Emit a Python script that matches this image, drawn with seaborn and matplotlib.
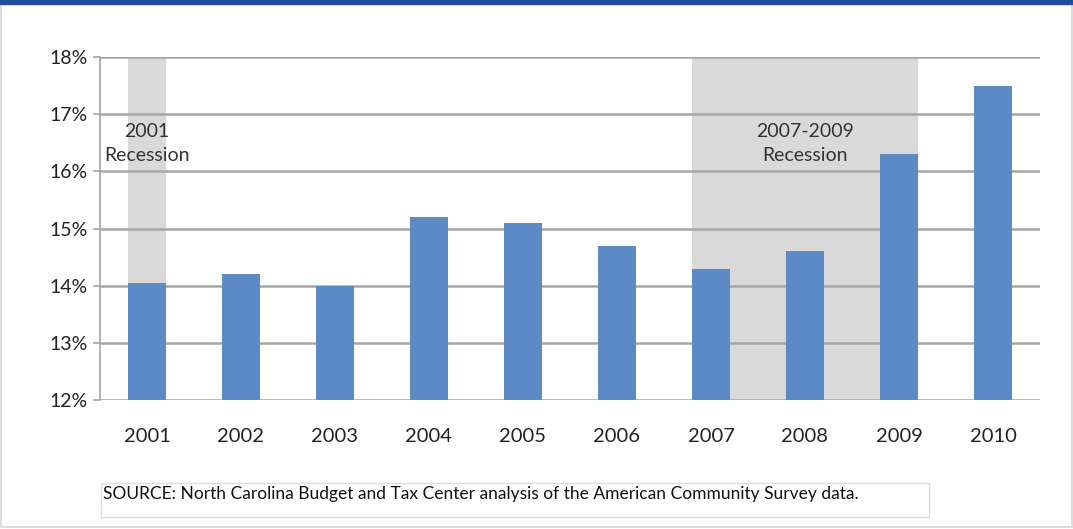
import matplotlib
matplotlib.use("Agg")
import matplotlib.pyplot as plt
import matplotlib.patches as mpatches
import seaborn as sns
import pandas as pd

years = ["2001", "2002", "2003", "2004", "2005", "2006", "2007", "2008", "2009", "2010"]
rates = [14.05, 14.2, 14.0, 15.2, 15.1, 14.7, 14.3, 14.6, 16.3, 17.5]
y_ticks = [12, 13, 14, 15, 16, 17, 18]
recessions = [("2001", "2001", "2001\nRecession"), ("2007", "2009", "2007-2009\nRecession")]
source = "SOURCE: North Carolina Budget and Tax Center analysis of the American Community Survey data."

sns.set_theme(style="white")
plt.rcParams["font.family"] = ["Lato", "DejaVu Sans"]

W, H = 1073, 529
fig = plt.figure(figsize=(W / 100, H / 100), dpi=100)
ax = fig.add_axes([100 / W, 1 - 400 / H, (1040 - 100) / W, (400 - 57) / H])

df = pd.DataFrame({"year": years, "rate": rates})
bw = 0.4
for start, end, label in recessions:
    i0, i1 = years.index(start), years.index(end)
    ax.axvspan(i0 - bw / 2, i1 + bw / 2, color="#d9d9d9", zorder=0, lw=0)
    ax.text((i0 + i1) / 2, 16.49, label, ha="center", va="center", fontsize=14,
            color="#333333", linespacing=1.5, zorder=3)

sns.barplot(data=df, x="year", y="rate", color="#5B8AC6", width=bw, saturation=1,
            ax=ax, zorder=2, bottom=0, edgecolor="none", linewidth=0)
ax.set_ylim(12, 18)
ax.set_xlim(-0.5, len(years) - 0.5)
ax.set_yticks(y_ticks)
ax.set_yticklabels([f"{t}%" for t in y_ticks])
for t in y_ticks:
    ax.axhline(t, color="#a6a6a6", lw=1.8, zorder=1)
ax.set_xlabel("")
ax.set_ylabel("")
for s in ["top", "right", "bottom"]:
    ax.spines[s].set_visible(False)
ax.spines["left"].set_color("#a6a6a6")
ax.spines["left"].set_linewidth(1.2)
ax.tick_params(axis="y", length=5, color="#a6a6a6", width=1.2, labelsize=14,
               labelcolor="#222222", pad=4, left=True)
ax.tick_params(axis="x", length=0, labelsize=14.5, labelcolor="#222222", pad=20)

# top blue bar and frame
fig.patches.append(mpatches.Rectangle((0, 1 - 4 / H), 1, 4 / H, transform=fig.transFigure,
                                      color="#1F4E9E", zorder=5))
fig.patches.append(mpatches.Rectangle((1 / W, 2 / H), 1 - 2 / W, 1 - 6 / H, transform=fig.transFigure,
                                      fill=False, ec="#dddddd", lw=1.5, zorder=4))
# source box
fig.patches.append(mpatches.Rectangle((101 / W, 1 - 517 / H), (929 - 101) / W, 34 / H,
                                      transform=fig.transFigure, fill=False, ec="#dddddd", lw=1))
fig.text(103 / W, 1 - 494 / H, source, fontsize=12.5, color="#111111", va="center", ha="left")

fig.savefig("out.png", dpi=100)
